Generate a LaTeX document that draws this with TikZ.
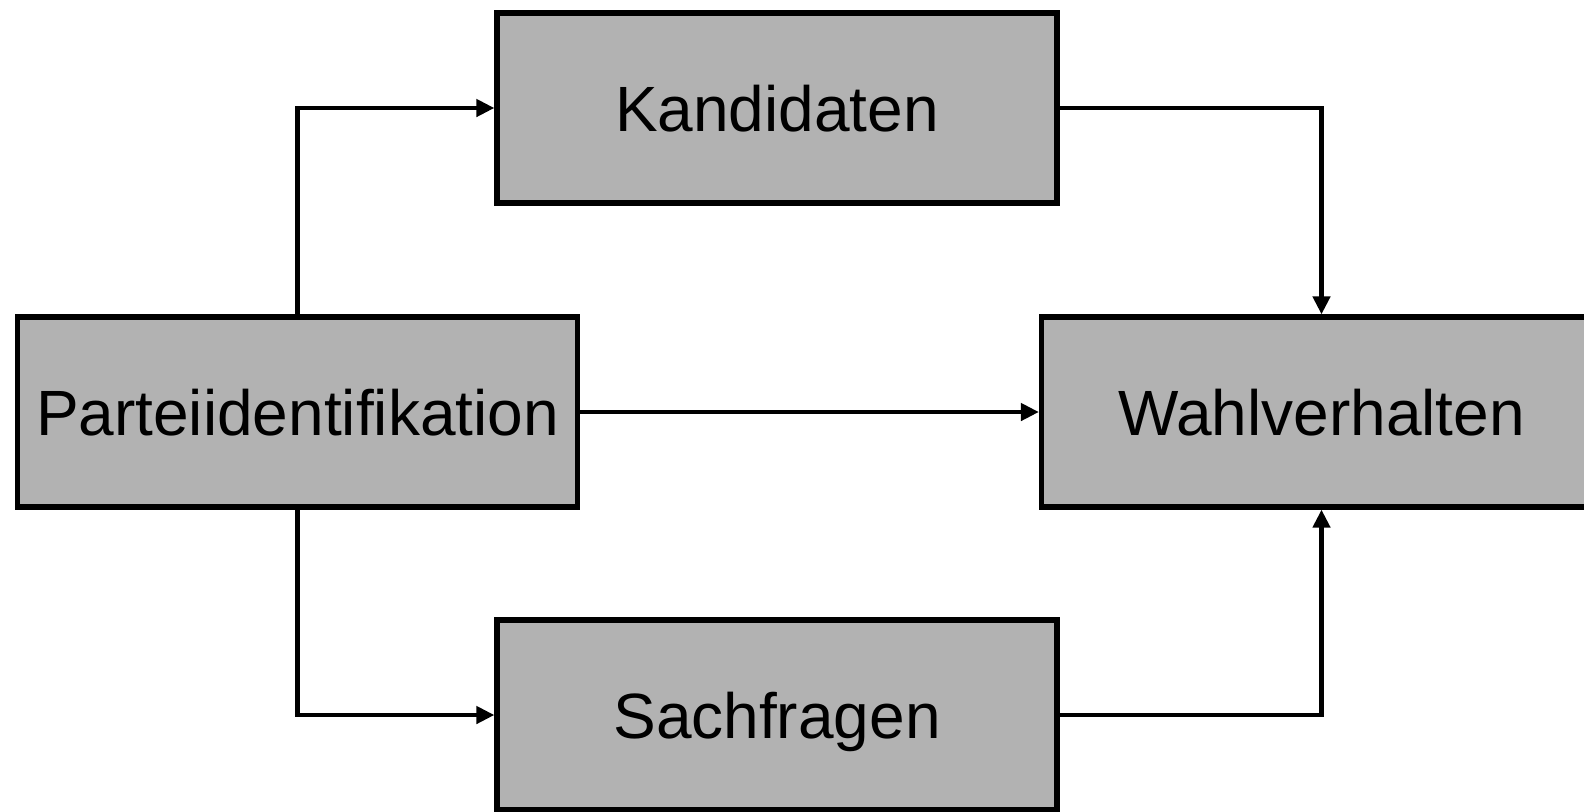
\documentclass[tikz,border=0pt]{standalone}
\usepackage{fontspec}
\setmainfont{Liberation Sans}
\usetikzlibrary{arrows.meta}
\begin{document}
\begin{tikzpicture}[x=0.5pt,y=-0.5pt,
  box/.style={draw=black, fill=black!30, line width=2.6pt,
    minimum width=280pt, minimum height=95pt, inner sep=0pt,
    text depth=0pt, font=\fontsize{32}{38}\selectfont},
  link/.style={line width=2.2pt,
    -{Triangle[length=9pt,width=8.5pt]}}]
  \useasboundingbox (0,0) rectangle (1584,811);
  \node[box] (K) at (777,108)    {Kandidaten};
  \node[box] (P) at (297.5,412)  {Parteiidentifikation};
  \node[box] (W) at (1321.5,412) {Wahlverhalten};
  \node[box] (S) at (777,715)    {Sachfragen};
  \draw[link] (P.north) |- (K.west);
  \draw[link] (P.south) |- (S.west);
  \draw[link] (P.east) -- (W.west);
  \draw[link] (K.east) -| (W.north);
  \draw[link] (S.east) -| (W.south);
\end{tikzpicture}
\end{document}
